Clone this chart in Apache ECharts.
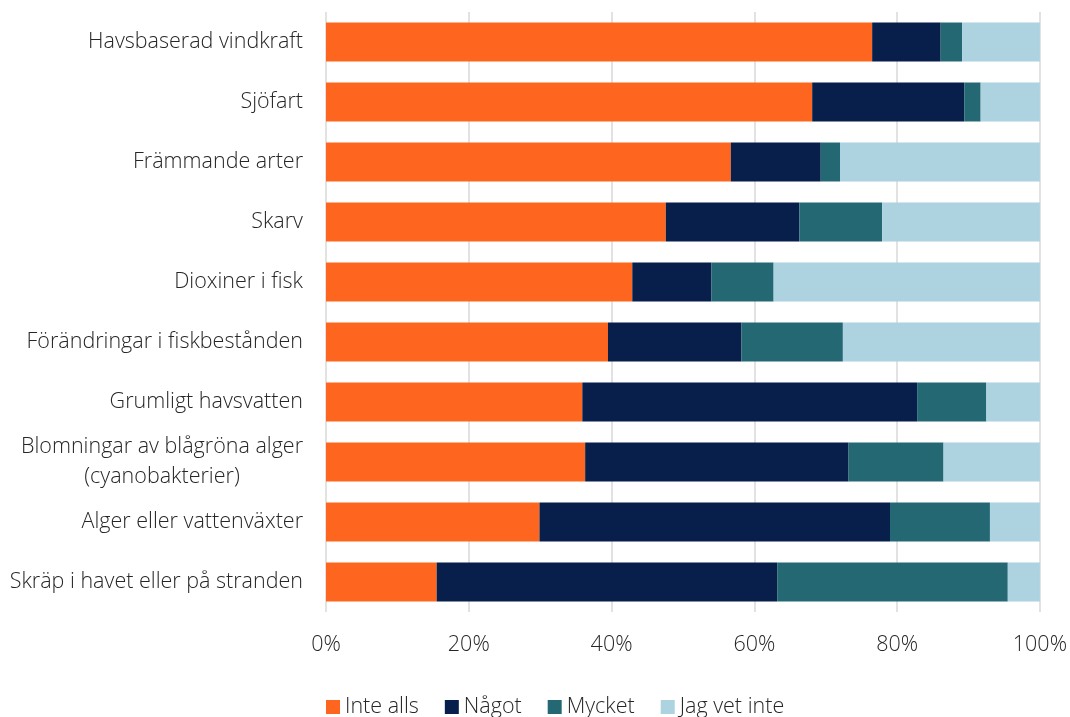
<!DOCTYPE html>
<html>
<head>
<meta charset="utf-8">
<script src="https://cdn.jsdelivr.net/npm/echarts@6/dist/echarts.min.js"></script>
<style>
  html, body { margin: 0; padding: 0; background: #ffffff; }
  #chart { width: 1070px; height: 717px; }
</style>
</head>
<body>
<div id="chart"></div>
<script>
// Categories, listed top to bottom
const categories = [
  'Havsbaserad vindkraft',
  'Sjöfart',
  'Främmande arter',
  'Skarv',
  'Dioxiner i fisk',
  'Förändringar i fiskbestånden',
  'Grumligt havsvatten',
  'Blomningar av blågröna alger\n(cyanobakterier)',
  'Alger eller vattenväxter',
  'Skräp i havet eller på stranden'
];

// Share of answers (%) per category, same order as above
const inteAlls  = [76.5, 68.1, 56.7, 47.6, 42.9, 39.5, 35.9, 36.3, 29.9, 15.5];
const nagot     = [ 9.6, 21.3, 12.6, 18.7, 11.1, 18.7, 46.9, 36.9, 49.1, 47.7];
const mycket    = [ 3.0,  2.3,  2.7, 11.6,  8.7, 14.2,  9.7, 13.3, 14.0, 32.3];
const jagVetInte= [10.9,  8.3, 28.0, 22.1, 37.3, 27.6,  7.5, 13.5,  7.0,  4.5];

const seriesNames = ['Inte alls', 'Något', 'Mycket', 'Jag vet inte'];
const seriesColors = ['#FE661F', '#081F4B', '#246874', '#ADD2E0'];
const seriesData = [inteAlls, nagot, mycket, jagVetInte];

const FONT = '"Open Sans"';
const WEIGHT = 300;
const SIZE = 21.5;
const TEXT = '#262626';

const chart = echarts.init(document.getElementById('chart'), null, { renderer: 'canvas' });

chart.setOption({
  animation: false,
  backgroundColor: '#ffffff',
  grid: { left: 326, right: 29, top: 12, bottom: 105, containLabel: false },
  xAxis: {
    type: 'value',
    min: 0,
    max: 100,
    interval: 20,
    axisLine: { show: false },
    axisTick: { show: false },
    splitLine: { show: true, lineStyle: { color: '#d9d9d9', width: 1.5 } },
    axisLabel: {
      formatter: '{value}%',
      fontFamily: FONT,
      fontWeight: WEIGHT,
      fontSize: SIZE,
      color: TEXT,
      margin: 22
    }
  },
  yAxis: {
    type: 'category',
    inverse: true,
    data: categories,
    axisLine: { show: false },
    axisTick: { show: false },
    axisLabel: {
      margin: 23,
      formatter: function (v) { return '{c|' + v + '}'; },
      rich: {
        c: {
          fontFamily: FONT,
          fontWeight: WEIGHT,
          fontSize: SIZE,
          color: TEXT,
          align: 'center',
          lineHeight: 30
        }
      }
    }
  },
  legend: {
    bottom: -6,
    left: 321,
    itemWidth: 14,
    itemHeight: 14,
    itemGap: 26,
    icon: 'rect',
    textStyle: { fontFamily: FONT, fontWeight: WEIGHT, fontSize: SIZE, color: TEXT },
    data: seriesNames
  },
  series: seriesNames.map(function (name, i) {
    return {
      name: name,
      type: 'bar',
      stack: 'total',
      barCategoryGap: '35%',
      itemStyle: { color: seriesColors[i] },
      data: seriesData[i]
    };
  })
});
</script>
</body>
</html>
